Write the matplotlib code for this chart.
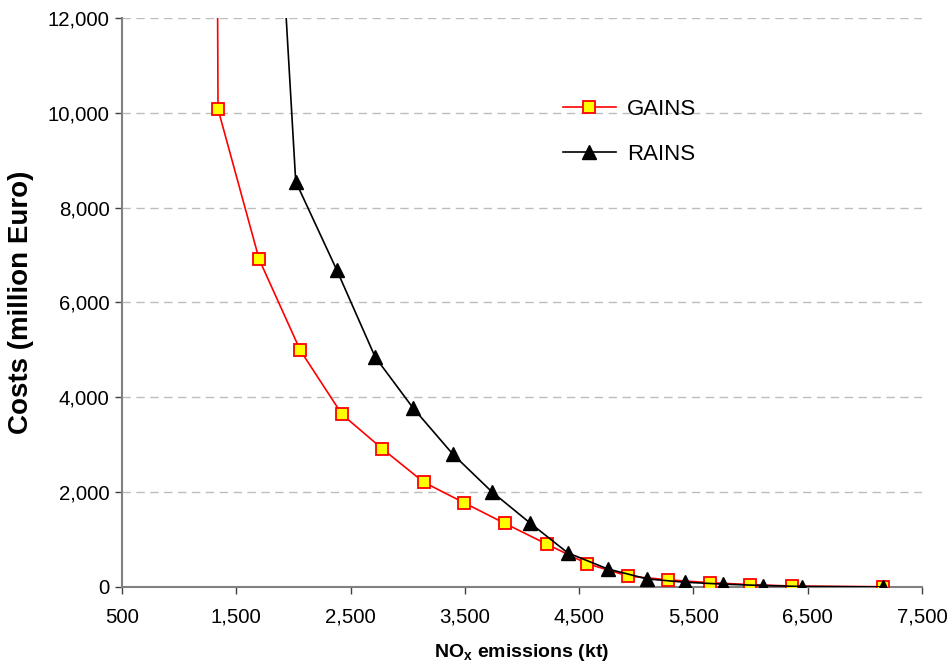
import matplotlib
matplotlib.use("Agg")
import matplotlib.pyplot as plt
from matplotlib.ticker import FuncFormatter

plt.rcParams["font.family"] = ["Liberation Sans", "DejaVu Sans"]

# GAINS cost curve (first point lies above the plotted range)
gains_x = [1330, 1340, 1700, 2060, 2425, 2775, 3140, 3490, 3850, 4220, 4570, 4930, 5280, 5645, 5995, 6360, 7160]
gains_y = [16000, 10080, 6910, 4990, 3640, 2920, 2210, 1780, 1340, 900, 490, 230, 150, 90, 50, 20, 5]

# RAINS cost curve
rains_x = [1840, 2020, 2380, 2715, 3045, 3395, 3735, 4070, 4400, 4750, 5095, 5425, 5760, 6110, 6450, 7160]
rains_y = [16000, 8550, 6680, 4850, 3780, 2800, 2010, 1350, 720, 380, 170, 100, 60, 30, 10, 0]

xticks = [500, 1500, 2500, 3500, 4500, 5500, 6500, 7500]
yticks = [0, 2000, 4000, 6000, 8000, 10000, 12000]

fig = plt.figure(figsize=(9.51, 6.64), dpi=100)
ax = fig.add_axes([0.1283, 0.116, 0.8412, 0.8569])

ax.plot(gains_x, gains_y, color="#FF0000", lw=1.2, marker="s", ms=8,
        mfc="#FFFF00", mec="#FF0000", mew=1.3, label="GAINS", zorder=3)
ax.plot(rains_x, rains_y, color="black", lw=1.2, marker="^", ms=9.5,
        mfc="black", mec="black", label="RAINS", zorder=4)

ax.set_xlim(500, 7500)
ax.set_ylim(0, 12000)
ax.set_xticks(xticks)
ax.set_yticks(yticks)
fmt = FuncFormatter(lambda v, p: f"{int(v):,}")
ax.xaxis.set_major_formatter(fmt)
ax.yaxis.set_major_formatter(fmt)

ax.grid(axis="y", color="#BDBDBD", linestyle=(0, (6, 4)), lw=1)
ax.set_axisbelow(True)
for s in ["top", "right"]:
    ax.spines[s].set_visible(False)
for s in ["left", "bottom"]:
    ax.spines[s].set_color("#808080")
    ax.spines[s].set_linewidth(1.5)

ax.tick_params(axis="both", direction="out", length=5, width=1, color="#404040",
               labelsize=14.7)
ax.tick_params(axis="x", pad=10)
ax.tick_params(axis="y", pad=4)

ax.set_xlabel("NO$_\\mathregular{x}$ emissions (kt)", fontsize=14, fontweight="bold",
              labelpad=11)
ax.set_ylabel("Costs (million Euro)", fontsize=20, fontweight="bold", labelpad=10)

ax.legend(loc="upper left", bbox_to_anchor=(0.526, 0.893), frameon=False,
          fontsize=16, handlelength=2.4, handletextpad=0.5, labelspacing=1.07)

fig.savefig("out.png", dpi=100)
